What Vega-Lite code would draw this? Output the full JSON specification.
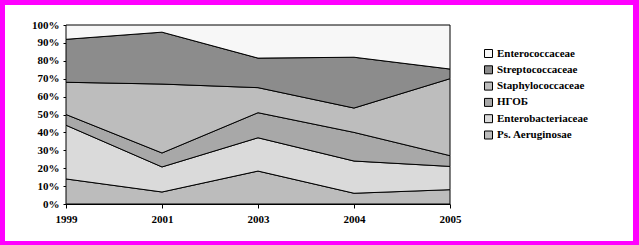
{
  "$schema": "https://vega.github.io/schema/vega-lite/v6.json",
  "autosize": {"type": "none"},
  "width": 628,
  "height": 236,
  "padding": {"left": 5, "top": 5, "right": 6, "bottom": 4},
  "background": "#ff00ff",
  "config": {
    "view": {"fill": "#ffffff", "stroke": null},
    "font": "Liberation Serif"
  },
  "data": {
    "values": [
      {"year": "1999", "series": "Ps. Aeruginosae", "k": 1, "value": 14},
      {"year": "2001", "series": "Ps. Aeruginosae", "k": 1, "value": 6.7},
      {"year": "2003", "series": "Ps. Aeruginosae", "k": 1, "value": 18.4},
      {"year": "2004", "series": "Ps. Aeruginosae", "k": 1, "value": 6},
      {"year": "2005", "series": "Ps. Aeruginosae", "k": 1, "value": 8},
      {"year": "1999", "series": "Enterobacteriaceae", "k": 2, "value": 30},
      {"year": "2001", "series": "Enterobacteriaceae", "k": 2, "value": 14},
      {"year": "2003", "series": "Enterobacteriaceae", "k": 2, "value": 18.6},
      {"year": "2004", "series": "Enterobacteriaceae", "k": 2, "value": 18},
      {"year": "2005", "series": "Enterobacteriaceae", "k": 2, "value": 13},
      {"year": "1999", "series": "НГОБ", "k": 3, "value": 6},
      {"year": "2001", "series": "НГОБ", "k": 3, "value": 7.8},
      {"year": "2003", "series": "НГОБ", "k": 3, "value": 14},
      {"year": "2004", "series": "НГОБ", "k": 3, "value": 16},
      {"year": "2005", "series": "НГОБ", "k": 3, "value": 6},
      {"year": "1999", "series": "Staphylococcaceae", "k": 4, "value": 18},
      {"year": "2001", "series": "Staphylococcaceae", "k": 4, "value": 38.5},
      {"year": "2003", "series": "Staphylococcaceae", "k": 4, "value": 14},
      {"year": "2004", "series": "Staphylococcaceae", "k": 4, "value": 13.6},
      {"year": "2005", "series": "Staphylococcaceae", "k": 4, "value": 43},
      {"year": "1999", "series": "Streptococcaceae", "k": 5, "value": 24},
      {"year": "2001", "series": "Streptococcaceae", "k": 5, "value": 29},
      {"year": "2003", "series": "Streptococcaceae", "k": 5, "value": 16.5},
      {"year": "2004", "series": "Streptococcaceae", "k": 5, "value": 28.4},
      {"year": "2005", "series": "Streptococcaceae", "k": 5, "value": 5.4},
      {"year": "1999", "series": "Enterococcaceae", "k": 6, "value": 8},
      {"year": "2001", "series": "Enterococcaceae", "k": 6, "value": 4},
      {"year": "2003", "series": "Enterococcaceae", "k": 6, "value": 18.5},
      {"year": "2004", "series": "Enterococcaceae", "k": 6, "value": 18},
      {"year": "2005", "series": "Enterococcaceae", "k": 6, "value": 24.6}
    ]
  },
  "mark": {"type": "area", "stroke": "#000000", "strokeWidth": 1, "opacity": 1, "fillOpacity": 1},
  "encoding": {
    "x": {
      "field": "year",
      "type": "ordinal",
      "scale": {"type": "point", "range": [61, 445], "padding": 0},
      "axis": {
        "title": null,
        "labelAngle": 0,
        "labelFont": "Liberation Serif",
        "labelFontWeight": "bold",
        "labelFontSize": 11,
        "labelColor": "#000000",
        "domainColor": "#000000",
        "tickColor": "#000000",
        "tickSize": 4,
        "labelPadding": 5,
        "offset": -37,
        "grid": false
      }
    },
    "y": {
      "field": "value",
      "type": "quantitative",
      "stack": "normalize",
      "scale": {"domain": [0, 1], "range": [199, 20], "nice": false},
      "axis": {
        "title": null,
        "format": ".0%",
        "values": [0, 0.1, 0.2, 0.3, 0.4, 0.5, 0.6, 0.7, 0.8, 0.9, 1],
        "labelFont": "Liberation Serif",
        "labelFontWeight": "bold",
        "labelFontSize": 11,
        "labelColor": "#000000",
        "domainColor": "#000000",
        "tickColor": "#000000",
        "tickSize": 3,
        "labelPadding": 4,
        "offset": -61,
        "grid": false
      }
    },
    "color": {
      "field": "series",
      "type": "nominal",
      "scale": {
        "domain": ["Enterococcaceae", "Streptococcaceae", "Staphylococcaceae", "НГОБ", "Enterobacteriaceae", "Ps. Aeruginosae"],
        "range": ["#f7f7f7", "#8c8c8c", "#bdbdbd", "#a8a8a8", "#dadada", "#bcbcbc"]
      },
      "legend": {
        "title": null,
        "orient": "none",
        "legendX": 478,
        "legendY": 43,
        "padding": 0,
        "symbolType": "square",
        "symbolSize": 64,
        "symbolStrokeColor": "#000000",
        "symbolStrokeWidth": 1,
        "symbolOpacity": 1,
        "labelFont": "Liberation Serif",
        "labelFontWeight": "bold",
        "labelFontSize": 11,
        "labelColor": "#000000",
        "labelOffset": 3,
        "rowPadding": 3.3
      }
    },
    "order": {"field": "k", "type": "quantitative", "sort": "ascending"}
  }
}
